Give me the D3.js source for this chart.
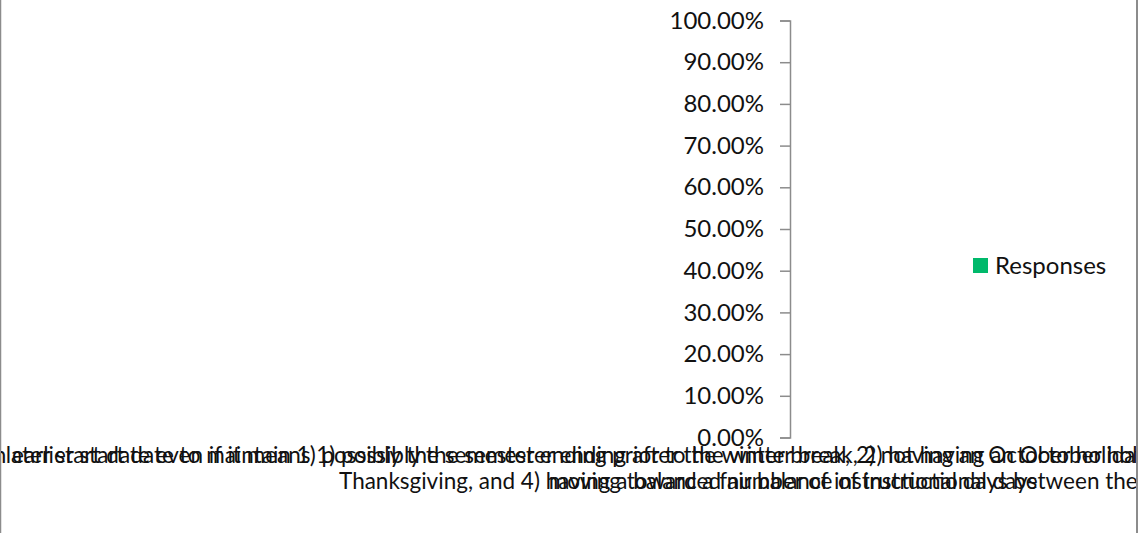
<!DOCTYPE html>
<html>
<head>
<meta charset="utf-8">
<script src="https://cdn.jsdelivr.net/npm/d3@7"></script>
<style>
  html, body { margin: 0; padding: 0; background: #fff; }
  svg { display: block; font-family: Lato, "Noto Sans", sans-serif; }
</style>
</head>
<body>
<svg id="chart" width="1141" height="533"></svg>
<script>
// Survey options (each label is wrapped onto two lines with "\n")
const categories = [
  "An earlier start date to maintain 1) possibly the semester ending prior to the winter break, 2) having an October holiday, 3) having the full week off during the week of\nThanksgiving, and 4) having a balanced number of instructional days between the semesters",
  "A later start date even if it means 1) possibly the semester ending after the winter break, 2) not having an October holiday, 3) not having a full week off at the time of\nmoving toward a fair balance of instructional days"
];
const responses = [0, 0];
const seriesName = "Responses";
const yTicks = [0, 0.1, 0.2, 0.3, 0.4, 0.5, 0.6, 0.7, 0.8, 0.9, 1.0];

const W = 1141, H = 533;
const svg = d3.select("#chart");

// Plot area: the value axis sits at its left edge; the category band is squeezed
const plot = { left: 790, right: 794, top: 20.5, bottom: 437.5 };

const x = d3.scaleBand().domain(categories).range([plot.left, plot.right]).padding(0);
const y = d3.scaleLinear().domain([0, 1]).range([plot.bottom, plot.top]);

// chart-area clip
svg.append("defs").append("clipPath").attr("id", "area-clip")
  .append("rect").attr("x", 1).attr("y", 0).attr("width", 1135).attr("height", H);

// chart-area border (left and right edges)
svg.append("line").attr("x1", 0.5).attr("x2", 0.5).attr("y1", 0).attr("y2", H)
  .attr("stroke", "#8c8c8c").attr("stroke-width", 1.5);
svg.append("line").attr("x1", 1137).attr("x2", 1137).attr("y1", 0).attr("y2", H)
  .attr("stroke", "#8c8c8c").attr("stroke-width", 2);

// bars
svg.append("g").selectAll("rect").data(responses).join("rect")
  .attr("x", (d, i) => x(categories[i]))
  .attr("width", x.bandwidth())
  .attr("y", d => y(d))
  .attr("height", d => y(0) - y(d))
  .attr("fill", "#00b96b");

// value axis
const yAxis = d3.axisLeft(y).tickValues(yTicks).tickSize(10).tickPadding(16)
  .tickFormat(d3.format(".2%"));
const gy = svg.append("g").attr("transform", `translate(${plot.left},0)`).call(yAxis);
gy.select(".domain").attr("stroke", "#8c8c8c").attr("stroke-width", 1.5);
gy.selectAll(".tick line").attr("stroke", "#8c8c8c").attr("stroke-width", 1.5);
gy.selectAll(".tick text").attr("fill", "#111").style("font-size", "24px")
  .style("font-family", "Lato, sans-serif");

// category labels (centred under their band, clipped by the chart area)
const gx = svg.append("g").attr("clip-path", "url(#area-clip)");
categories.forEach(c => {
  const cx = x(c) + x.bandwidth() / 2;
  const t = gx.append("text").attr("text-anchor", "middle")
    .attr("fill", "#111").style("font-size", "22.5px");
  c.split("\n").forEach((line, k) => {
    t.append("tspan").attr("x", cx).attr("y", 463 + k * 26).text(line);
  });
});

// legend
const lg = svg.append("g").attr("transform", "translate(973,258)");
lg.append("rect").attr("width", 15).attr("height", 15).attr("fill", "#00b96b");
lg.append("text").attr("x", 22).attr("y", 15.5).attr("fill", "#111")
  .style("font-size", "24px").text(seriesName);
</script>
</body>
</html>
